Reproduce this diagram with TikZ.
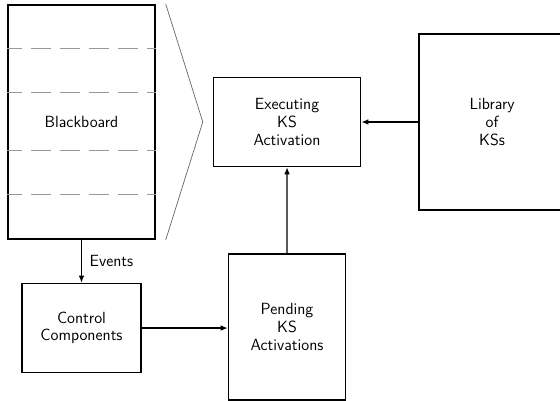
\documentclass[tikz,border=0pt]{standalone}
\usepackage{tikz}
\usetikzlibrary{arrows.meta, positioning, calc}

\begin{document}
\begin{tikzpicture}[
  node distance=1.075cm and 1.425cm,
  box/.style={rectangle, draw=black, line width=1.1pt, align=center,
              font=\sffamily\fontsize{11.5}{12.5}\selectfont, inner sep=2pt},
  arr/.style={-{Latex[length=5pt,width=4pt]}, line width=0.9pt},
  guide/.style={gray!80!black, line width=0.5pt},
  slot/.style={gray!80, line width=0.6pt, dash pattern=on 0.5cm off 0.225cm, dash phase=0.13cm},
]
\useasboundingbox (0,0) rectangle (14,10.025);

\node[box, minimum width=3.675cm, minimum height=5.85cm] (bb) at (2.0375,6.975) {Blackboard};
\node[box, minimum width=3.675cm, minimum height=2.225cm, right=of bb] (exec) {Executing\\KS\\Activation};
\node[box, minimum width=3.65cm, minimum height=4.4cm, right=of exec] (lib) {Library\\of\\KSs};
\node[box, minimum width=2.975cm, minimum height=2.225cm, below=of bb] (ctrl) {Control\\Components};
\node[box, minimum width=2.925cm, minimum height=3.65cm, right=2.15cm of ctrl, yshift=0.025cm] (pend) {Pending\\KS\\Activations};

% blackboard levels
\foreach \d in {44,88,146,190}
  \draw[slot] ($(bb.north west)+(0,-\d*0.025)$) -- ($(bb.north east)+(0,-\d*0.025)$);

% zoom bracket
\coordinate (apex) at ($(exec.west)+(-0.25,0)$);
\draw[guide] ($(bb.north east)+(0.25,0)$) -- (apex) -- ($(bb.south east)+(0.25,0)$);

\draw[arr] (bb) -- (ctrl) node[midway,right,xshift=2pt,font=\sffamily\fontsize{11.5}{12.5}\selectfont]{Events};
\draw[arr] (ctrl.east) -- (ctrl.east -| pend.west);
\draw[arr] (pend) -- (exec);
\draw[arr] (lib) -- (exec);

\end{tikzpicture}
\end{document}
